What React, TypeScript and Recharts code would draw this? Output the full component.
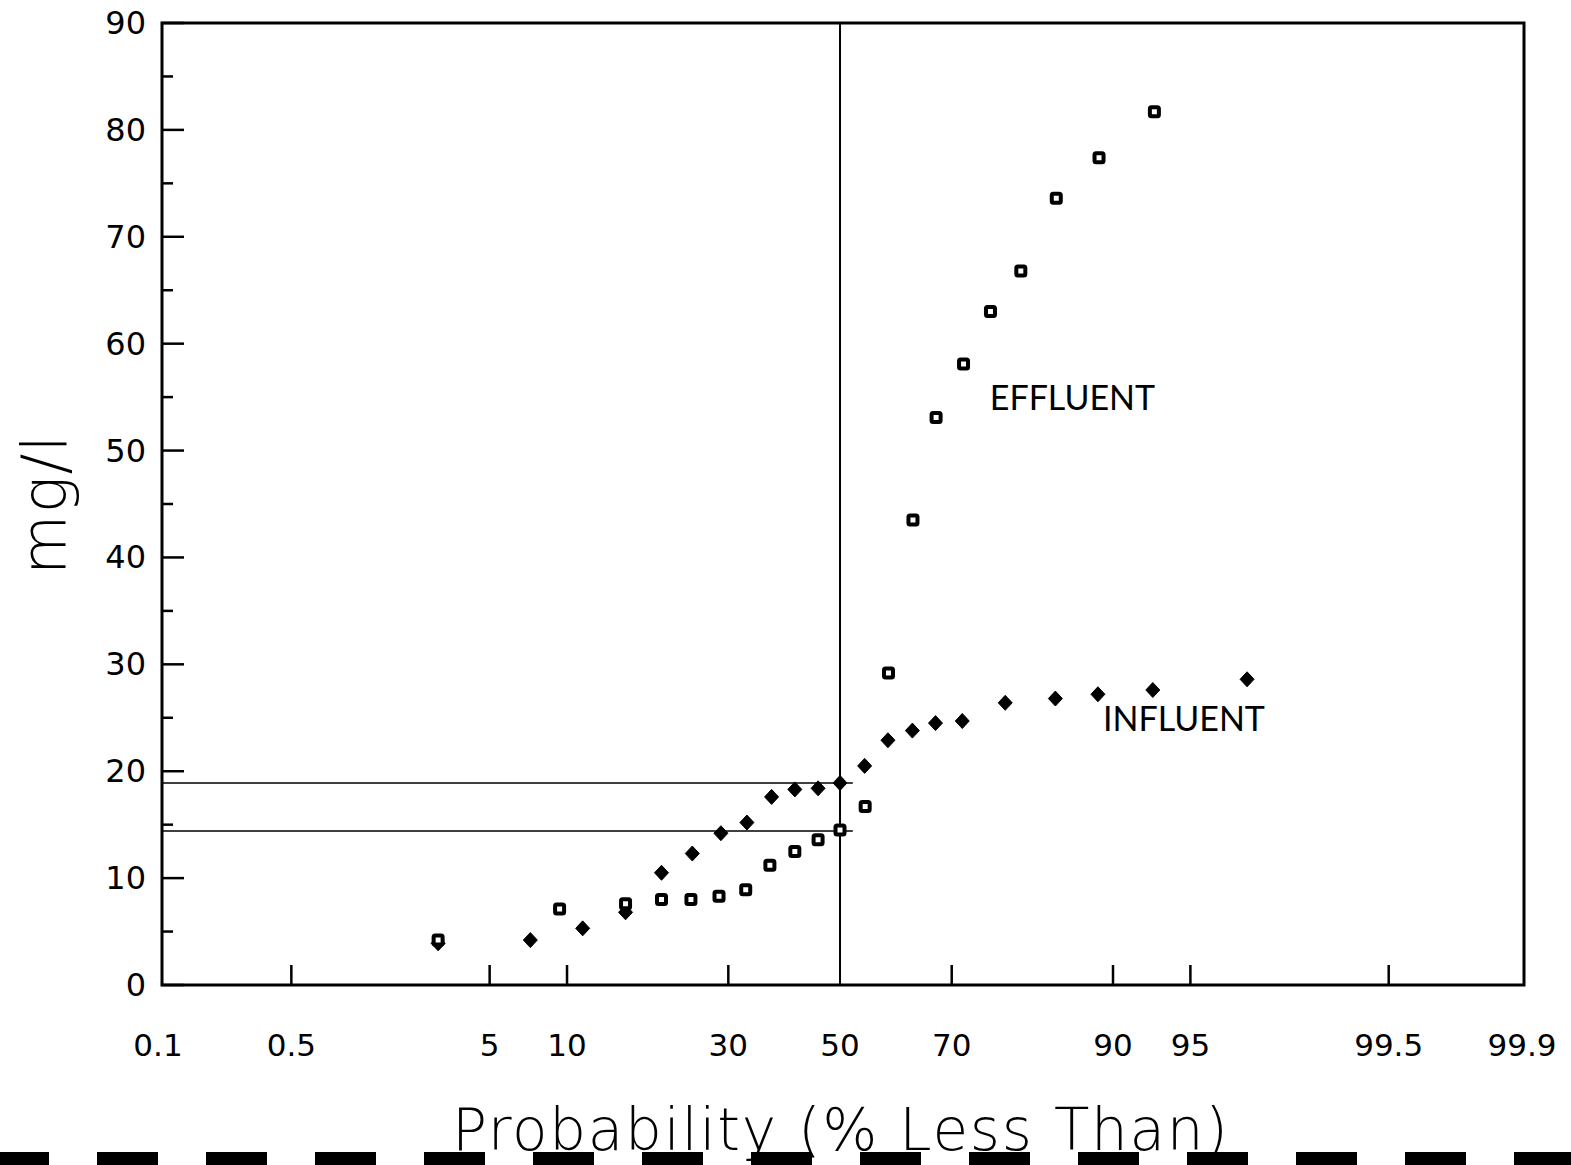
import React from "react";
import {
  ScatterChart, Scatter, XAxis, YAxis, ReferenceLine, ReferenceArea, ReferenceDot
} from "recharts";

// probability plot: cumulative % (less than) vs concentration
const EFFLUENT_P = [2.96, 9.4, 15.7, 20.1, 24.2, 28.5, 32.9, 37.1, 41.6, 45.9, 50.0, 54.7, 59.0, 63.4, 67.4, 71.9, 76.0, 80.2, 84.5, 88.8, 93.0];
const EFFLUENT_MG = [4.2, 7.1, 7.6, 8.0, 8.0, 8.3, 8.9, 11.2, 12.5, 13.6, 14.5, 16.7, 29.2, 43.5, 53.1, 58.1, 63.0, 66.8, 73.6, 77.4, 81.7];

const INFLUENT_P = [2.96, 7.3, 11.35, 15.7, 20.1, 24.4, 28.8, 33.1, 37.4, 41.6, 45.9, 50.0, 54.6, 58.9, 63.3, 67.3, 71.7, 78.1, 84.4, 88.7, 92.9, 97.2];
const INFLUENT_MG = [3.9, 4.2, 5.3, 6.8, 10.5, 12.3, 14.2, 15.2, 17.6, 18.3, 18.4, 18.9, 20.5, 22.9, 23.8, 24.5, 24.7, 26.4, 26.8, 27.2, 27.6, 28.6];

// medians read at the 50% line
const MEDIAN_INFLUENT = 18.9;
const MEDIAN_EFFLUENT = 14.4;

const X_TICK_LABELS = ["0.1", "0.5", "5", "10", "30", "50", "70", "90", "95", "99.5", "99.9"];
const Y_TICKS = [0, 5, 10, 15, 20, 25, 30, 35, 40, 45, 50, 55, 60, 65, 70, 75, 80, 85, 90];

// axis extent in normal-score units (the 0.1 / 99.9 labels sit on the frame ends)
const Z_MIN = -3.183;
const Z_MAX = 3.211;

const FONT = "'DejaVu Sans', sans-serif";
const THIN = "Lato, 'DejaVu Sans', sans-serif";
const TITLE_FONT = "'DejaVu Sans', Lato, sans-serif";

// inverse normal cdf (Acklam)
function probit(p: number) {
  const a = [-3.969683028665376e1, 2.209460984245205e2, -2.759285104469687e2, 1.38357751867269e2, -3.066479806614716e1, 2.506628277459239];
  const b = [-5.447609879822406e1, 1.615858368580409e2, -1.556989798598866e2, 6.680131188771972e1, -1.328068155288572e1];
  const c = [-7.784894002430293e-3, -3.223964580411365e-1, -2.400758277161838, -2.549732539343734, 4.374664141464968, 2.938163982698783];
  const d = [7.784695709041462e-3, 3.224671290700398e-1, 2.445134137142996, 3.754408661907416];
  const plow = 0.02425;
  if (p < plow) {
    const q = Math.sqrt(-2 * Math.log(p));
    return (((((c[0] * q + c[1]) * q + c[2]) * q + c[3]) * q + c[4]) * q + c[5]) / ((((d[0] * q + d[1]) * q + d[2]) * q + d[3]) * q + 1);
  }
  if (p > 1 - plow) {
    const q = Math.sqrt(-2 * Math.log(1 - p));
    return -(((((c[0] * q + c[1]) * q + c[2]) * q + c[3]) * q + c[4]) * q + c[5]) / ((((d[0] * q + d[1]) * q + d[2]) * q + d[3]) * q + 1);
  }
  const q = p - 0.5;
  const r = q * q;
  return ((((((a[0] * r + a[1]) * r + a[2]) * r + a[3]) * r + a[4]) * r + a[5]) * q) / (((((b[0] * r + b[1]) * r + b[2]) * r + b[3]) * r + b[4]) * r + 1);
}

const pz = (pct: number) => probit(pct / 100);

const tickZ = (label: string, i: number) => {
  if (i === 0) return Z_MIN;
  if (i === X_TICK_LABELS.length - 1) return Z_MAX;
  return pz(parseFloat(label));
};
const X_TICKS = X_TICK_LABELS.map(tickZ);

const effluent = EFFLUENT_P.map((p, i) => ({ z: pz(p), mg: EFFLUENT_MG[i] }));
const influent = INFLUENT_P.map((p, i) => ({ z: pz(p), mg: INFLUENT_MG[i] }));

const SquareMark = (props: any) => {
  const { cx, cy } = props;
  if (cx == null || cy == null) return null;
  return <rect x={cx - 4.5} y={cy - 4.5} width={9} height={9} fill="#fff" stroke="#000" strokeWidth={4} rx={1.5} />;
};

const DiamondMark = (props: any) => {
  const { cx, cy } = props;
  if (cx == null || cy == null) return null;
  return <polygon points={`${cx},${cy - 7.5} ${cx + 7},${cy} ${cx},${cy + 7.5} ${cx - 7},${cy}`} fill="#000" stroke="#000" strokeWidth={1} strokeLinejoin="round" />;
};

const XTick = (props: any) => {
  const { x, y, index } = props;
  const label = X_TICK_LABELS[index];
  const showMark = index > 0 && index < X_TICK_LABELS.length - 1 && label !== "50";
  return (
    <g>
      {showMark && <line x1={x} x2={x} y1={y} y2={y - 20} stroke="#000" strokeWidth={2.5} />}
      <text x={index === 0 ? x - 4 : index === X_TICK_LABELS.length - 1 ? x - 2 : x} y={y + 71} textAnchor="middle" fontFamily={FONT} fontSize={31} fill="#000">
        {label}
      </text>
    </g>
  );
};

const YTick = (props: any) => {
  const { x, y, payload } = props;
  const major = payload.value % 10 === 0;
  return (
    <g>
      <line x1={x} x2={x + (major ? 22 : 11)} y1={y} y2={y} stroke="#000" strokeWidth={2.5} />
      {major && (
        <text x={x - 16} y={y + 11} textAnchor="end" fontFamily={FONT} fontSize={32} fill="#000">
          {payload.value}
        </text>
      )}
    </g>
  );
};

const textShape = (label: string) => (props: any) => (
  <text x={props.cx} y={props.cy} fontFamily={THIN} fontSize={34} fill="#000">
    {label}
  </text>
);

export default function App() {
  return (
    <div style={{ position: "absolute", left: 0, top: 0, width: 1571, height: 1165, overflow: "hidden", background: "#fff" }}>
      <ScatterChart width={1571} height={1165} margin={{ top: 23, right: 47, left: 102, bottom: 120 }}>
        <XAxis
          type="number"
          dataKey="z"
          domain={[Z_MIN, Z_MAX]}
          allowDataOverflow
          ticks={X_TICKS}
          interval={0}
          height={60}
          axisLine={false}
          tickLine={false}
          tickSize={0}
          tickMargin={0}
          tick={<XTick />}
          label={{
            content: (p: any) => (
              <text x={840} y={p.viewBox.y + 165} textAnchor="middle" fontFamily={TITLE_FONT} fontWeight={200} fontSize={58} textLength={776} lengthAdjust="spacing" fill="#000">
                Probability (% Less Than)
              </text>
            )
          }}
        />
        <YAxis
          type="number"
          dataKey="mg"
          domain={[0, 90]}
          allowDataOverflow
          ticks={Y_TICKS}
          interval={0}
          width={60}
          axisLine={false}
          tickLine={false}
          tickSize={0}
          tickMargin={0}
          tick={<YTick />}
          label={{
            content: () => (
              <text x={66} y={505} transform="rotate(-90 66 505)" textAnchor="middle" fontFamily={TITLE_FONT} fontWeight={200} fontSize={62} textLength={140} lengthAdjust="spacing" fill="#000">
                mg/l
              </text>
            )
          }}
        />
        <ReferenceArea x1={Z_MIN} x2={Z_MAX} y1={0} y2={90} fill="none" stroke="#000" strokeWidth={3} />
        <ReferenceLine x={pz(50)} stroke="#000" strokeWidth={2} />
        <ReferenceLine segment={[{ x: Z_MIN, y: MEDIAN_INFLUENT }, { x: 0.06, y: MEDIAN_INFLUENT }]} stroke="#000" strokeWidth={1.5} />
        <ReferenceLine segment={[{ x: Z_MIN, y: MEDIAN_EFFLUENT }, { x: 0.06, y: MEDIAN_EFFLUENT }]} stroke="#000" strokeWidth={1.5} />
        <Scatter name="Influent" data={influent} shape={DiamondMark} isAnimationActive={false} />
        <Scatter name="Effluent" data={effluent} shape={SquareMark} isAnimationActive={false} />
        <ReferenceDot x={pz(75.9)} y={53.8} r={1} shape={textShape("EFFLUENT")} />
        <ReferenceDot x={pz(89.15)} y={23.8} r={1} shape={textShape("INFLUENT")} />
      </ScatterChart>
      <svg style={{ position: "absolute", left: 0, top: 1152 }} width={1571} height={13}>
        <line x1={0} x2={1571} y1={6.5} y2={6.5} stroke="#000" strokeWidth={13} strokeDasharray="61 48" strokeDashoffset={12} />
      </svg>
    </div>
  );
}
